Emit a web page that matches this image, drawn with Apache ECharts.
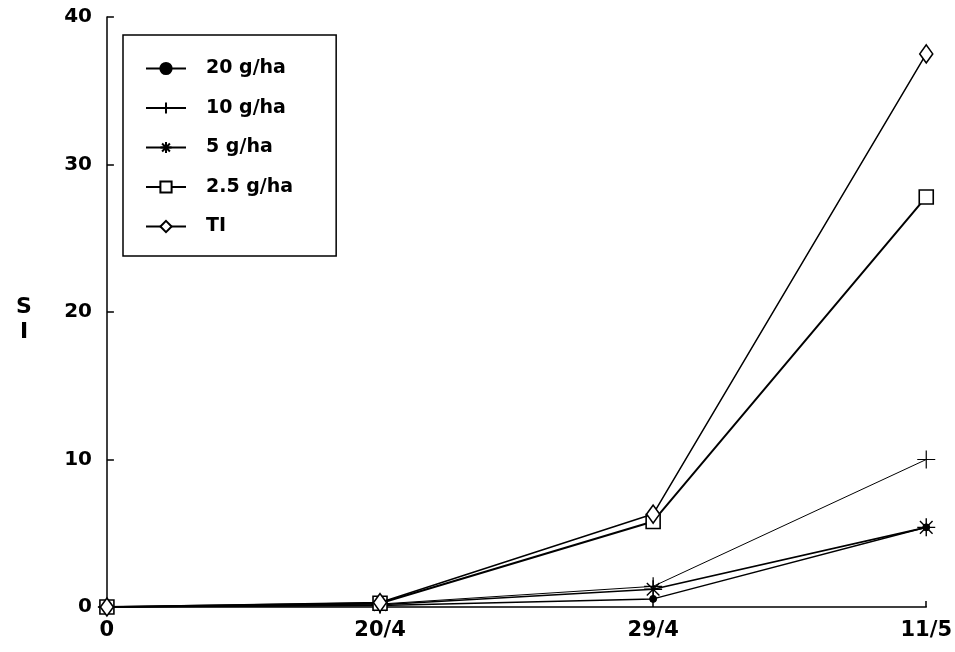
<!DOCTYPE html>
<html>
<head>
<meta charset="utf-8">
<title>SI</title>
<script src="https://cdn.jsdelivr.net/npm/echarts@6/dist/echarts.min.js"></script>
<style>
  html, body { margin: 0; padding: 0; background: #fff; }
  #chart { width: 955px; height: 652px; }
</style>
</head>
<body>
<div id="chart"></div>
<script>
// Sampling dates (evenly spaced on the x axis)
const dates = ['0', '20/4', '29/4', '11/5'];

// SI values per treatment
const g20 = [0, 0.1, 0.55, 5.4];
const g10 = [0, 0.2, 1.4, 10.0];
const g5 = [0, 0.15, 1.2, 5.4];
const g25 = [0, 0.25, 5.8, 27.8];
const ti = [0, 0.3, 6.3, 37.5];

const yTicks = [0, 10, 20, 30, 40];

const FONT = 'DejaVu Sans';
const INK = '#000';

const plusPath = 'path://M0,6L12,6M6,0L6,12';
const starPath = 'path://M0,6L12,6M6,0L6,12M1.8,1.8L10.2,10.2M1.8,10.2L10.2,1.8';

function pairs(vals) {
  return vals.map((v, i) => [i, v]);
}

function lineSeries(name, vals, opts) {
  return Object.assign({
    name: name,
    type: 'line',
    data: pairs(vals),
    showSymbol: true,
    symbolKeepAspect: true,
    lineStyle: { color: INK, width: opts.lw },
    itemStyle: { color: opts.fill, borderColor: INK, borderWidth: opts.bw },
    emphasis: { disabled: true },
    z: opts.z || 2
  }, opts.extra);
}

const chart = echarts.init(document.getElementById('chart'), null, { renderer: 'canvas' });

chart.setOption({
  animation: false,
  backgroundColor: '#fff',
  title: {
    text: 'S\nI',
    left: 19,
    top: 290,
    textAlign: 'center',
    textStyle: { fontFamily: FONT, fontWeight: 'bold', fontSize: 22, lineHeight: 25, color: INK }
  },
  grid: { left: 102, right: 27, top: 17, bottom: 45 },
  legend: {
    orient: 'vertical',
    left: 123,
    top: 35,
    padding: [24, 43, 20, 22],
    itemWidth: 40,
    itemHeight: 14,
    itemGap: 20.5,
    borderColor: INK,
    borderWidth: 1.5,
    backgroundColor: '#fff',
    textStyle: { fontFamily: FONT, fontWeight: 'bold', fontSize: 19, color: INK, padding: [0, 0, 0, 15] },
    data: ['20 g/ha', '10 g/ha', '5 g/ha', '2.5 g/ha', 'TI']
  },
  xAxis: {
    type: 'value',
    min: -0.018,
    max: dates.length - 1,
    splitLine: { show: false },
    axisLine: { lineStyle: { color: INK, width: 1.5 } },
    axisTick: { show: true, inside: true, length: 6, customValues: [0, 1, 2, 3], lineStyle: { color: INK, width: 1.5 } },
    axisLabel: {
      customValues: [0, 1, 2, 3],
      formatter: v => dates[Math.round(v)],
      margin: 13,
      fontFamily: FONT, fontWeight: 'bold', fontSize: 21, color: INK
    }
  },
  yAxis: {
    type: 'value',
    min: 0,
    max: 40,
    interval: 10,
    splitLine: { show: false },
    axisLine: { show: true, lineStyle: { color: INK, width: 1.5 } },
    axisTick: { show: true, inside: true, length: 7, lineStyle: { color: INK, width: 1.5 } },
    axisLabel: {
      formatter: v => (yTicks.indexOf(v) >= 0 ? String(v) : ''),
      margin: 10,
      fontFamily: FONT, fontWeight: 'bold', fontSize: 20, color: INK
    }
  },
  series: [
    lineSeries('20 g/ha', g20, { lw: 1.5, fill: INK, bw: 1, extra: { symbol: 'circle', symbolSize: 7 } }),
    lineSeries('10 g/ha', g10, { lw: 1, fill: 'none', bw: 1.2, extra: { symbol: plusPath, symbolSize: 18 } }),
    lineSeries('5 g/ha', g5, { lw: 1.6, fill: 'none', bw: 1.4, extra: { symbol: starPath, symbolSize: 18 } }),
    lineSeries('2.5 g/ha', g25, { lw: 2, fill: '#fff', bw: 1.6, z: 3, extra: { symbol: 'rect', symbolSize: 14 } }),
    lineSeries('TI', ti, { lw: 1.5, fill: '#fff', bw: 1.6, z: 4, extra: { symbol: 'diamond', symbolSize: [13, 18] } })
  ]
});
</script>
</body>
</html>
